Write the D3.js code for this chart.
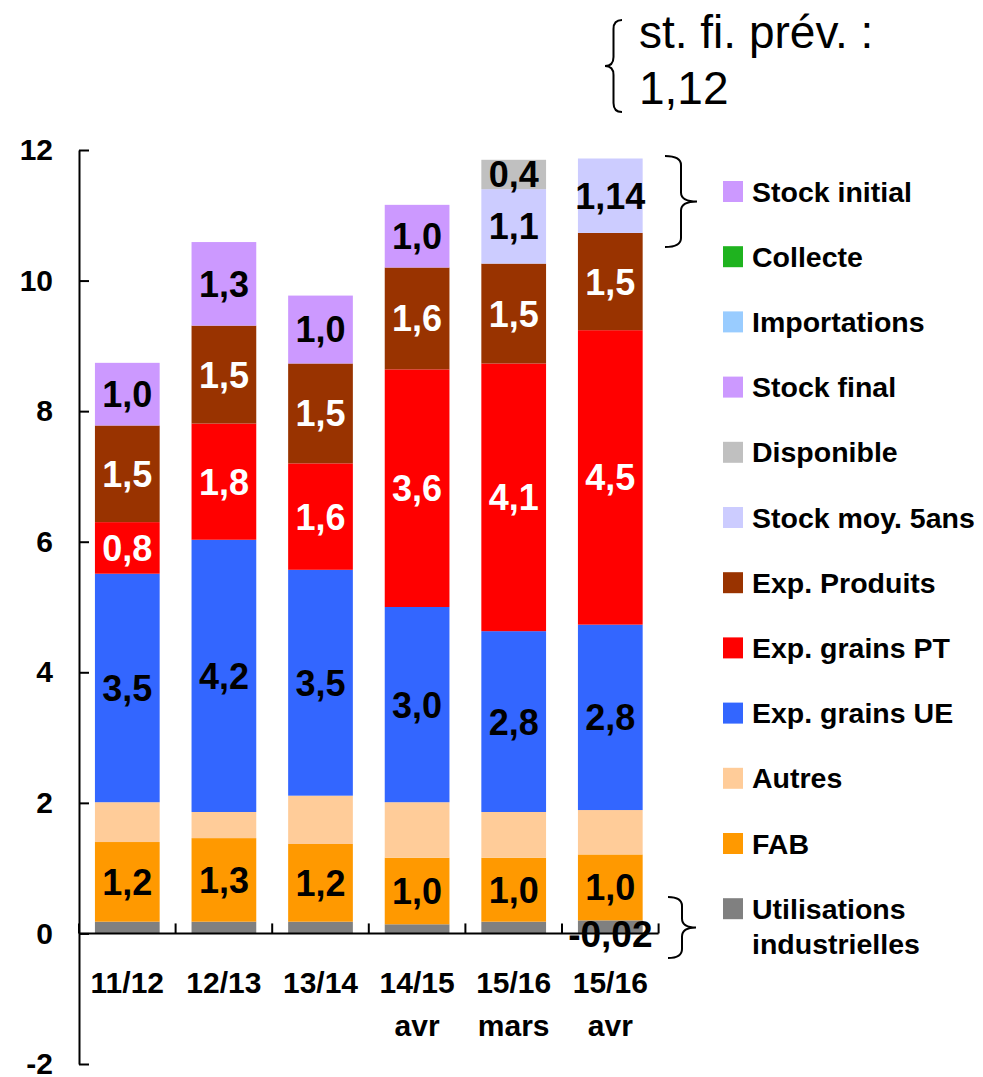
<!DOCTYPE html>
<html>
<head>
<meta charset="utf-8">
<script src="https://cdn.jsdelivr.net/npm/d3@7"></script>
<style>
body { margin: 0; background: #fff; }
text { font-family: "Liberation Sans", Arial, sans-serif; }
</style>
</head>
<body>
<svg id="chart"></svg>
<script>
var width = 983;
var height = 1077;

// campaigns (two-line labels)
var categories = ["11/12", "12/13", "13/14", "14/15", "15/16", "15/16"];
var subLabels = ["", "", "", "avr", "mars", "avr"];

// series, bottom of the stack first
var seriesNames = ["Utilisations industrielles", "FAB", "Autres", "Exp. grains UE", "Exp. grains PT",
    "Exp. Produits", "Stock moy. 5ans", "Disponible", "Stock final", "Importations", "Collecte", "Stock initial"];
var seriesColors = ["#808080", "#FF9900", "#FFCC99", "#3366FF", "#FF0000",
    "#993300", "#CCCCFF", "#C0C0C0", "#CC99FF", "#99CCFF", "#1FB31F", "#CC99FF"];

var utilisations = [0.18, 0.18, 0.18, 0.14, 0.18, 0.20];
var fab = [1.22, 1.28, 1.19, 1.02, 0.98, 1.01];
var autres = [0.61, 0.40, 0.74, 0.85, 0.70, 0.68];
var grainsUE = [3.50, 4.17, 3.46, 2.99, 2.77, 2.84];
var grainsPT = [0.79, 1.78, 1.63, 3.64, 4.10, 4.51];
var produits = [1.48, 1.50, 1.53, 1.56, 1.53, 1.49];
var stockMoy = [0, 0, 0, 0, 1.14, 1.14];
var disponible = [0, 0, 0, 0, 0.45, 0];
var stockFinal = [0.96, 1.28, 1.04, 0.96, 0, 0];
var importations = [0, 0, 0, 0, 0, 0];
var collecte = [0, 0, 0, 0, 0, 0];
var stockInitial = [0, 0, 0, 0, 0, 0];

var seriesValues = [utilisations, fab, autres, grainsUE, grainsPT, produits,
    stockMoy, disponible, stockFinal, importations, collecte, stockInitial];

// which series carry a value label, and in what colour
var labelled = ["FAB", "Exp. grains UE", "Exp. grains PT", "Exp. Produits", "Stock moy. 5ans", "Disponible", "Stock final"];
var whiteLabels = ["Exp. grains PT", "Exp. Produits"];
// labels that are not simply the rounded value
var specialLabels = [
    { series: "Stock moy. 5ans", index: 5, text: "1,14" },
    { series: "Utilisations industrielles", index: 5, text: "-0,02" }
];

var yTicks = [-2, 0, 2, 4, 6, 8, 10, 12];

var svg = d3.select("#chart")
    .attr("width", width)
    .attr("height", height);

var y = d3.scaleLinear().domain([-2, 12]).range([1064, 150]);
var x = d3.scaleBand().domain(d3.range(categories.length)).range([79, 658.6]).padding(0);
var barW = x.bandwidth() * 0.67;

var rows = categories.map(function(c, i) {
    var r = {};
    seriesNames.forEach(function(s, k) { r[s] = seriesValues[k][i]; });
    return r;
});

var stacked = d3.stack().keys(seriesNames)(rows);

var fmt = function(v) { return d3.format(".1f")(v).replace(".", ","); };

// bars
var layers = svg.append("g").selectAll("g")
    .data(stacked)
    .enter().append("g")
    .attr("fill", function(d, k) { return seriesColors[k]; });

layers.selectAll("rect")
    .data(function(d) { return d.map(function(p, i) { return { p: p, i: i }; }); })
    .enter().append("rect")
    .filter(function(d) { return d.p[1] - d.p[0] > 0; })
    .attr("x", function(d) { return x(d.i) + (x.bandwidth() - barW) / 2; })
    .attr("width", barW)
    .attr("y", function(d) { return y(d.p[1]); })
    .attr("height", function(d) { return y(d.p[0]) - y(d.p[1]); });

// y axis: line and inward ticks from d3, labels drawn bold by hand
var yAxis = d3.axisLeft(y).tickValues(yTicks).tickSizeInner(-10).tickSizeOuter(0).tickFormat("");
var gy = svg.append("g").attr("transform", "translate(79,0)").call(yAxis);
gy.selectAll("path, line").attr("stroke", "#000").attr("stroke-width", 2);

svg.append("g").selectAll("text")
    .data(yTicks)
    .enter().append("text")
    .attr("x", 53)
    .attr("y", function(d) { return y(d); })
    .attr("dy", "0.34em")
    .attr("text-anchor", "end")
    .attr("font-size", 30)
    .attr("font-weight", "bold")
    .text(function(d) { return String(d); });

var gx = svg.append("g");
gx.append("line")
    .attr("x1", x.range()[0]).attr("x2", x.range()[1])
    .attr("y1", y(0)).attr("y2", y(0))
    .attr("stroke", "#000").attr("stroke-width", 2);
gx.selectAll("line.tick")
    .data(d3.range(categories.length + 1))
    .enter().append("line")
    .attr("class", "tick")
    .attr("x1", function(i) { return x.range()[0] + i * x.step(); })
    .attr("x2", function(i) { return x.range()[0] + i * x.step(); })
    .attr("y1", y(0)).attr("y2", y(0) - 10)
    .attr("stroke", "#000").attr("stroke-width", 2);

var catText = gx.selectAll("text.cat")
    .data(categories)
    .enter().append("text")
    .attr("class", "cat")
    .attr("text-anchor", "middle")
    .attr("font-size", 30)
    .attr("font-weight", "bold")
    .attr("x", function(d, i) { return x(i) + x.bandwidth() / 2; })
    .attr("y", 993);
catText.append("tspan").text(function(d) { return d; });
catText.append("tspan")
    .attr("x", function(d, i) { return x(i) + x.bandwidth() / 2; })
    .attr("dy", 43)
    .text(function(d, i) { return subLabels[i]; });

// value labels
var labelData = [];
stacked.forEach(function(layer, k) {
    var name = seriesNames[k];
    layer.forEach(function(p, i) {
        var special = specialLabels.filter(function(s) { return s.series === name && s.index === i; })[0];
        var v = p[1] - p[0];
        if (special) {
            labelData.push({ i: i, mid: name === "Utilisations industrielles" ? 0 : (p[0] + p[1]) / 2, text: special.text, name: name });
        } else if (labelled.indexOf(name) >= 0 && v > 0) {
            labelData.push({ i: i, mid: (p[0] + p[1]) / 2, text: fmt(v), name: name });
        }
    });
});

svg.append("g").selectAll("text")
    .data(labelData)
    .enter().append("text")
    .attr("x", function(d) { return x(d.i) + x.bandwidth() / 2; })
    .attr("y", function(d) { return y(d.mid); })
    .attr("dy", "0.36em")
    .attr("text-anchor", "middle")
    .attr("font-size", function(d) { return d.name === "Utilisations industrielles" ? 37 : 36; })
    .attr("font-weight", "bold")
    .attr("fill", function(d) { return whiteLabels.indexOf(d.name) >= 0 ? "#fff" : "#000"; })
    .text(function(d) { return d.text; });

// legend, top of the stack first
var legendNames = seriesNames.slice().reverse();
var legendColors = seriesColors.slice().reverse();
var legend = svg.append("g").selectAll("g")
    .data(legendNames)
    .enter().append("g")
    .attr("transform", function(d, i) { return "translate(723," + (191.5 + i * 65.2) + ")"; });
legend.append("rect")
    .attr("x", 0).attr("y", -10.5)
    .attr("width", 20).attr("height", 21)
    .attr("fill", function(d, i) { return legendColors[i]; });
legend.append("text")
    .attr("x", 29)
    .attr("y", 10)
    .attr("font-size", 28.5)
    .attr("font-weight", "bold")
    .each(function(d) {
        var words = d === "Utilisations industrielles" ? ["Utilisations", "industrielles"] : [d];
        var t = d3.select(this);
        words.forEach(function(w, j) {
            t.append("tspan").attr("x", 29).attr("dy", j === 0 ? 0 : 35).text(w);
        });
    });

// braces and annotation
function bracePath(xEnd, xTip, y0, y1) {
    var xm = (xEnd + xTip) / 2, ym = (y0 + y1) / 2, r = 9;
    return "M" + xEnd + "," + y0 + " Q" + xm + "," + y0 + " " + xm + "," + (y0 + r) +
        " L" + xm + "," + (ym - r) + " Q" + xm + "," + ym + " " + xTip + "," + ym +
        " Q" + xm + "," + ym + " " + xm + "," + (ym + r) +
        " L" + xm + "," + (y1 - r) + " Q" + xm + "," + y1 + " " + xEnd + "," + y1;
}

var braces = [[622, 605, 20, 112], [665, 697, 156, 247], [668, 696, 897, 958]];
svg.append("g").selectAll("path")
    .data(braces)
    .enter().append("path")
    .attr("d", function(b) { return bracePath(b[0], b[1], b[2], b[3]); })
    .attr("fill", "none")
    .attr("stroke", "#000")
    .attr("stroke-width", 2);

var note = svg.append("text")
    .attr("x", 639)
    .attr("y", 48)
    .attr("font-size", 46);
note.append("tspan").text("st. fi. prév. :");
note.append("tspan").attr("x", 639).attr("dy", 56).text("1,12");
</script>
</body>
</html>
